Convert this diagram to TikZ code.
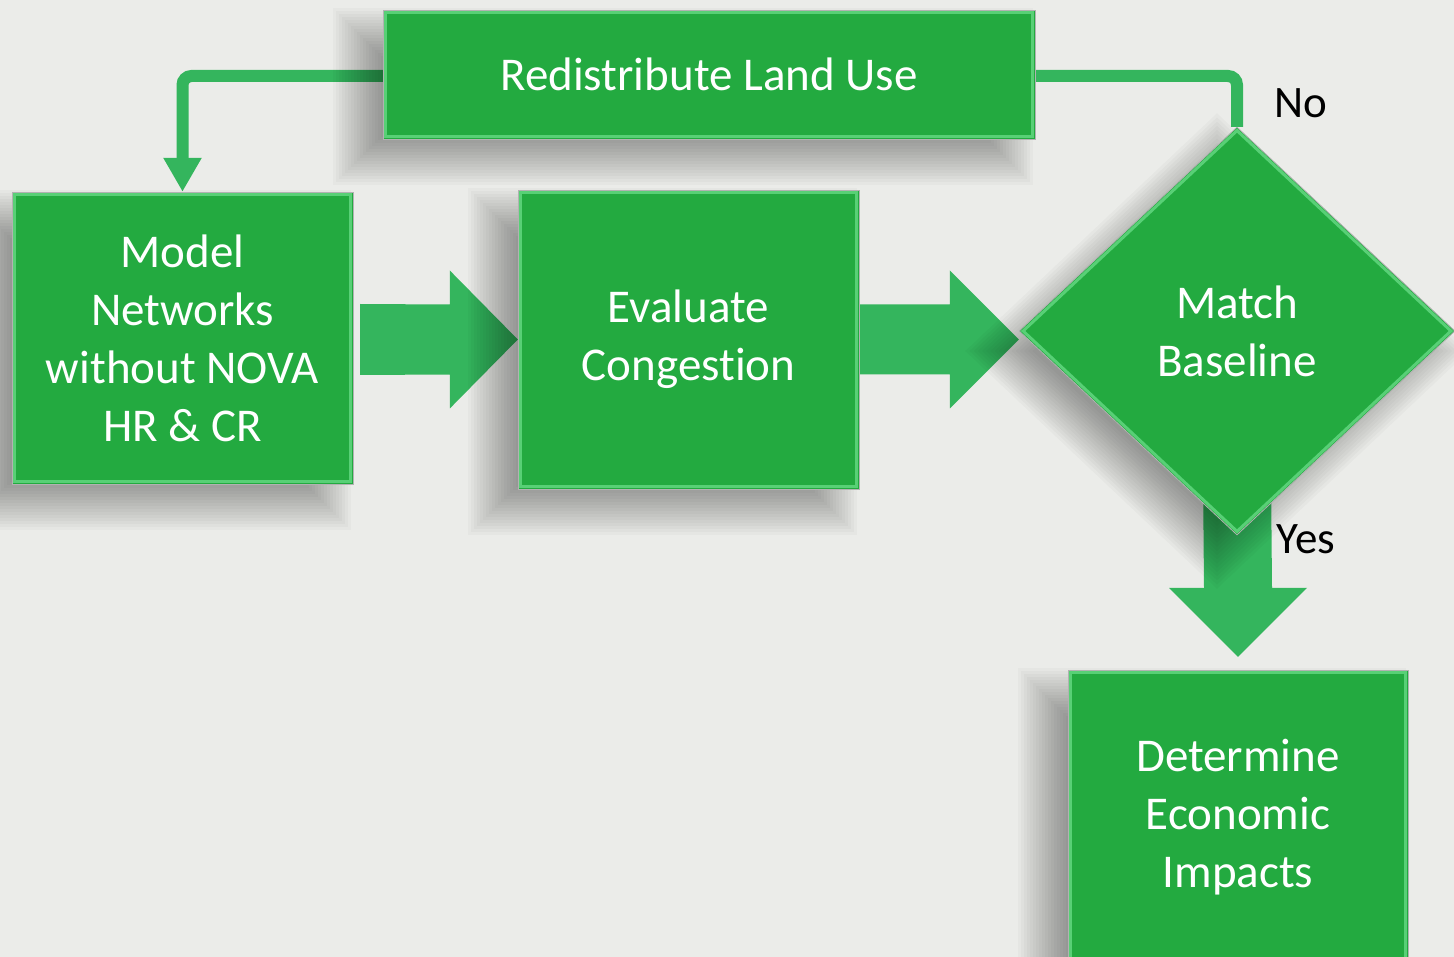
\documentclass[tikz,border=0pt]{standalone}
\usepackage{fontspec}
\setmainfont[Ligatures=NoCommon]{Carlito}
\usetikzlibrary{shapes.geometric,calc,arrows.meta}
\definecolor{bg}{HTML}{EBECE9}
\definecolor{boxg}{HTML}{23AA40}
\definecolor{arrg}{HTML}{34B55D}
\definecolor{bevelg}{HTML}{66DA84}
\newcommand\rectshadow[1]{%
  \foreach \k in {0,...,16}{%
    \pgfmathsetmacro\dd{-24+3*\k}%
    \fill[shadowstep] ($(#1.north west)+(-26+\dd,22+\dd)$) rectangle ($(#1.south east)+(-26-\dd,22-\dd)$);
  }}
\newcommand\diashadow[1]{%
  \foreach \k in {0,...,16}{%
    \pgfmathsetmacro\dd{(-24+3*\k)*1.4}%
    \fill[shadowstep] ($(#1.north)+(-20,20+\dd)$) -- ($(#1.east)+(-20-\dd,20)$)
       -- ($(#1.south)+(-20,20-\dd)$) -- ($(#1.west)+(-20+\dd,20)$) -- cycle;
  }}
\begin{document}
\begin{tikzpicture}[x=1pt,y=-1pt,
  shadowstep/.style={fill=black, opacity=0.024},
  box/.style={rectangle, fill=boxg, draw=black!30, line width=0.8pt, text=white, align=center,
    font=\fontsize{47}{58}\selectfont, inner sep=0pt},
  dia/.style={diamond, fill=boxg, draw=black!30, line width=0.8pt, text=white, align=center,
    font=\fontsize{47}{58}\selectfont, inner sep=0pt},
  ghost/.style={inner sep=0pt},
  bevelline/.style={draw=bevelg, line width=3pt, opacity=0.8},
  conn/.style={draw=arrg, line width=12pt, rounded corners=9pt},
  blockarrow/.style={fill=arrg},
  lbl/.style={text=black, font=\fontsize{45}{54}\selectfont, inner sep=0pt}
]
\useasboundingbox (0,0) rectangle (1454,957);
\fill[bg] (0,0) rectangle (1454,957);
\clip (0,0) rectangle (1454,957);

\path (709,74.5) coordinate (redistC)
      (182.5,338) coordinate (modelC)
      (688.5,339.5) coordinate (evalC)
      (1237,331) coordinate (matchC)
      (1238,817) coordinate (detC);

% invisible nodes giving anchors for what is drawn underneath
\node[ghost, minimum width=652pt, minimum height=129pt] (redist0) at (redistC) {};
\node[ghost, minimum width=341pt, minimum height=292pt] (model0) at (modelC) {};
\node[ghost, minimum width=341pt, minimum height=299pt] (eval0) at (evalC) {};
\node[ghost, diamond, minimum width=436pt, minimum height=408pt] (match0) at (matchC) {};
\node[ghost, minimum width=340pt, minimum height=294pt] (determine0) at (detC) {};

% connectors
\draw[conn, -{Triangle[width=36pt,length=34pt]}] ([yshift=-1.5pt]redist0.west) -| (model0.north);
\draw[conn] ([yshift=-1.5pt]redist0.east) -| (match0.north);

% block arrows
\fill[blockarrow] ($(model0.east)+(7,-34)$) -- ($(eval0.west)+(-68,-35)$) -- ($(eval0.west)+(-68,-69)$)
  -- (eval0.west) -- ($(eval0.west)+(-68,69)$) -- ($(eval0.west)+(-68,35)$) -- ($(model0.east)+(7,37)$) -- cycle;
\coordinate (tip2) at (match0.west |- eval0.east);
\fill[blockarrow] ($(eval0.east)+(1,-35)$) -- ($(tip2)+(-69,-35)$) -- ($(tip2)+(-69,-69)$)
  -- (tip2) -- ($(tip2)+(-69,69)$) -- ($(tip2)+(-69,35)$) -- ($(eval0.east)+(1,35)$) -- cycle;
\fill[blockarrow] ($(match0.south)+(-34,-60)$) -- ($(match0.south)+(34,-60)$) -- ($(determine0.north)+(34,-82)$)
  -- ($(determine0.north)+(69,-82)$) -- ($(determine0.north)+(0,-13)$) -- ($(determine0.north)+(-69,-82)$)
  -- ($(determine0.north)+(-34,-82)$) -- cycle;

% soft shadows
\rectshadow{redist0}
\rectshadow{model0}
\rectshadow{eval0}
\rectshadow{determine0}
\diashadow{match0}

% boxes
\node[box, minimum width=652pt, minimum height=129pt] (redist) at (redistC) {Redistribute Land Use};
\node[box, minimum width=341pt, minimum height=292pt] (model) at (modelC) {Model\\Networks\\without NOVA\\HR \& CR};
\node[box, minimum width=341pt, minimum height=299pt] (eval) at (evalC) {Evaluate\\Congestion};
\node[dia, minimum width=436pt, minimum height=408pt] (match) at (matchC) {Match\\Baseline};
\node[box, minimum width=340pt, minimum height=294pt] (determine) at (detC) {Determine\\Economic\\Impacts};

% bevels
\foreach \n in {redist,model,eval,determine}{
  \draw[bevelline] ([shift={(2.5pt,-2.5pt)}]\n.north west) rectangle ([shift={(-2.5pt,2.5pt)}]\n.south east);
}
\draw[bevelline] ([yshift=-4pt]match.north) -- ([xshift=4.5pt]match.west) -- ([yshift=4pt]match.south) -- ([xshift=-4.5pt]match.east) -- cycle;

% labels
\node[lbl] (no) at (1301,103) {No};
\node[lbl] (yes) at (1306,539) {Yes};
\end{tikzpicture}
\end{document}
